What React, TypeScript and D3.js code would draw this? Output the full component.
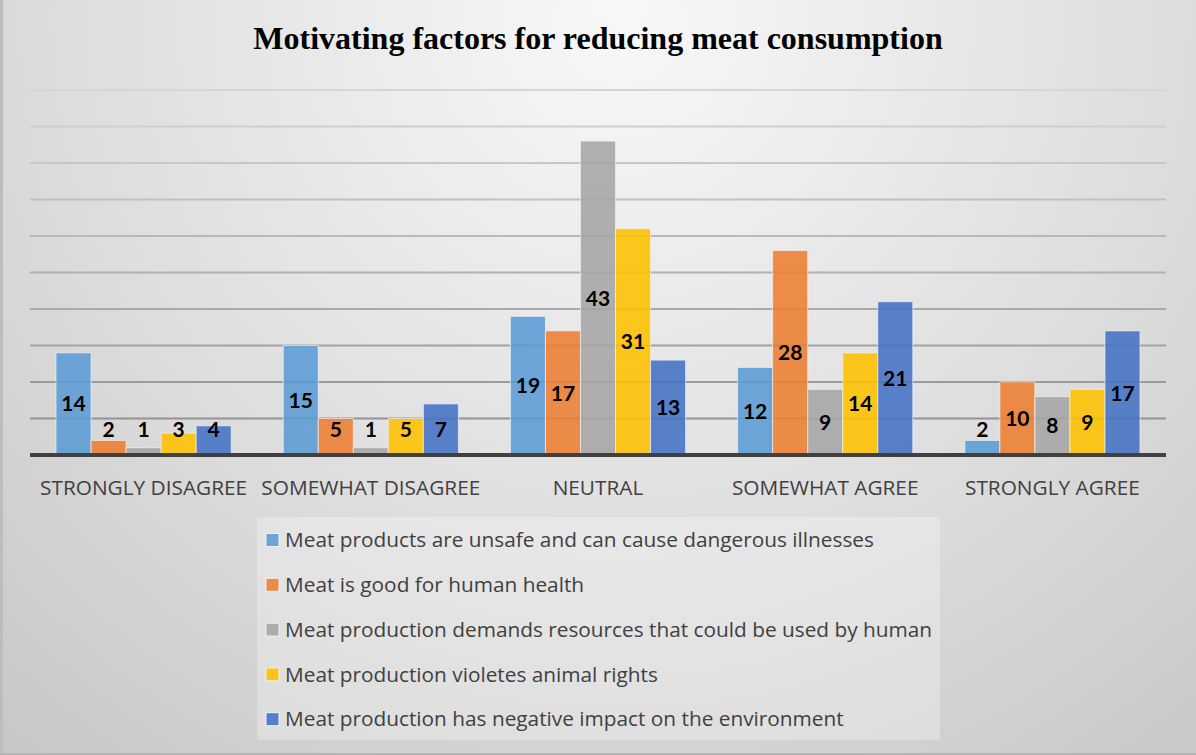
import React from "react";
import * as d3 from "d3";

const categories = [
  "STRONGLY DISAGREE",
  "SOMEWHAT DISAGREE",
  "NEUTRAL",
  "SOMEWHAT AGREE",
  "STRONGLY AGREE",
];

const seriesNames = [
  "Meat products are unsafe and can cause dangerous illnesses",
  "Meat is good for human health",
  "Meat production demands resources that could be used by human",
  "Meat production violetes animal rights",
  "Meat production has negative impact on the environment",
];

const unsafeValues = [14, 15, 19, 12, 2];
const healthValues = [2, 5, 17, 28, 10];
const resourcesValues = [1, 1, 43, 9, 8];
const rightsValues = [3, 5, 31, 14, 9];
const environmentValues = [4, 7, 13, 21, 17];

const seriesValues = [unsafeValues, healthValues, resourcesValues, rightsValues, environmentValues];
const seriesColors = ["#5B9BD5", "#ED7D31", "#A5A5A5", "#FFC000", "#4472C4"];

const yTicks = [0, 5, 10, 15, 20, 25, 30, 35, 40, 45, 50];

const W = 1196;
const H = 755;
const plot = { left: 30, right: 1166, top: 90, bottom: 455 };

export default function App() {
  const x = d3.scaleBand<string>().domain(categories).range([plot.left, plot.right]);
  const inner = d3
    .scaleBand<number>()
    .domain(d3.range(seriesValues.length))
    .range([26, x.bandwidth() - 26]);
  const y = d3.scaleLinear().domain([0, 50]).range([plot.bottom, plot.top]);
  const labelFloor = y(3.5);

  return (
    <svg
      width={W}
      height={H}
      style={{ position: "absolute", left: 0, top: 0, display: "block" }}
    >
      <defs>
        <radialGradient id="bg" gradientUnits="userSpaceOnUse" cx={620} cy={20} r={1150}>
          <stop offset="0" stopColor="#f8f8f8" />
          <stop offset="0.5" stopColor="#dcdcdc" />
          <stop offset="1" stopColor="#bcbcbc" />
        </radialGradient>
        <linearGradient id="grid" gradientUnits="userSpaceOnUse" x1={0} y1={plot.top} x2={0} y2={plot.bottom}>
          <stop offset="0" stopColor="#d6d6d6" />
          <stop offset="1" stopColor="#8c8c8c" />
        </linearGradient>
      </defs>
      <rect x={0} y={0} width={W} height={H} fill="url(#bg)" />
      <line x1={1.5} x2={1.5} y1={0} y2={H} stroke="#bdbdbd" strokeWidth={3} />
      <line x1={0} x2={W} y1={H - 1} y2={H - 1} stroke="#b5b5b5" strokeWidth={2} />

      <text
        x={598}
        y={49}
        textAnchor="middle"
        fontFamily="'Liberation Serif', 'Times New Roman', serif"
        fontWeight="bold"
        fontSize={32}
        fill="#000"
      >
        Motivating factors for reducing meat consumption
      </text>

      {yTicks.slice(1).map((t) => (
        <line
          key={t}
          x1={plot.left}
          x2={plot.right}
          y1={y(t)}
          y2={y(t)}
          stroke="url(#grid)"
          strokeWidth={2}
        />
      ))}

      {categories.map((c, ci) => (
        <g key={c} transform={`translate(${x(c)},0)`}>
          {seriesValues.map((vals, si) => {
            const v = vals[ci];
            const bx = inner(si)!;
            const bw = inner.bandwidth();
            return (
              <rect
                key={si}
                x={bx}
                y={y(v)}
                width={bw}
                height={y(0) - y(v)}
                fill={seriesColors[si]}
                fillOpacity={0.88}
                stroke="#f2f2f2"
                strokeOpacity={0.7}
                strokeWidth={1}
              />
            );
          })}
          {seriesValues.map((vals, si) => {
            const v = vals[ci];
            const cx = inner(si)! + inner.bandwidth() / 2;
            const cy = Math.min(y(v / 2), labelFloor);
            return (
              <text
                key={`l${si}`}
                x={cx}
                y={cy}
                dy="0.36em"
                textAnchor="middle"
                fontFamily="Lato, 'Open Sans', sans-serif"
                fontWeight="bold"
                fontSize={21}
                fill="#000"
              >
                {v}
              </text>
            );
          })}
          <text
            x={x.bandwidth() / 2}
            y={488}
            dy="0.35em"
            textAnchor="middle"
            fontFamily="'Open Sans', sans-serif"
            fontSize={20.8}
            fill="#404040"
          >
            {c}
          </text>
        </g>
      ))}

      <line x1={plot.left} x2={plot.right} y1={y(0)} y2={y(0)} stroke="#404040" strokeWidth={4} />

      <rect x={257} y={517} width={683} height={223} fill="#ffffff" fillOpacity={0.28} />
      {seriesNames.map((name, i) => {
        const cy = 540 + i * 44.8;
        return (
          <g key={name}>
            <rect
              x={266}
              y={cy - 6.5}
              width={13}
              height={13}
              fill={seriesColors[i]}
              fillOpacity={0.88}
              stroke="#f2f2f2"
              strokeWidth={1}
            />
            <text
              x={285}
              y={cy}
              dy="0.35em"
              fontFamily="'Open Sans', sans-serif"
              fontSize={20.8}
              fill="#404040"
            >
              {name}
            </text>
          </g>
        );
      })}
    </svg>
  );
}
